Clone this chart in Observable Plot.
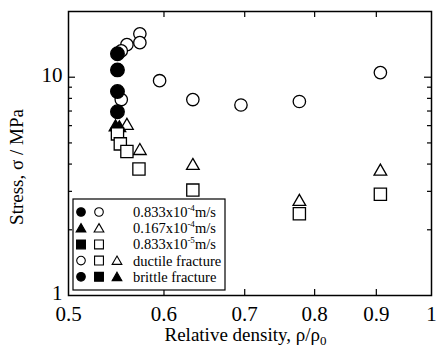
<!DOCTYPE html>
<html><head><meta charset="utf-8">
<script src="https://cdn.jsdelivr.net/npm/d3@7"></script>
<script src="https://cdn.jsdelivr.net/npm/@observablehq/plot@0.6"></script>
<style>
body{margin:0;background:#fff}
</style>
</head><body><div id="chart"></div>
<script>
// [relative density, stress MPa]
const ductile_833e4 = [[0.573,15.8],[0.573,14.4],[0.559,14.1],[0.553,13.2],[0.595,9.64],[0.553,7.9],[0.634,7.9],[0.695,7.46],[0.777,7.74],[0.907,10.5]];
const brittle_833e4 = [[0.549,12.8],[0.549,10.8],[0.549,8.6],[0.549,6.95]];
const brittle_167e4 = [[0.547,5.9],[0.551,5.85]];
const ductile_167e4 = [[0.559,6.0],[0.573,4.6],[0.634,3.93],[0.777,2.69],[0.907,3.70]];
const ductile_833e5 = [[0.549,5.5],[0.552,4.95],[0.559,4.57],[0.572,3.80],[0.634,3.04],[0.777,2.37],[0.907,2.91]];

const xTickLabels = [0.5,0.6,0.7,0.8,0.9,1];
const xInnerTicks = [0.6,0.7,0.8,0.9];
const yTickLabels = [1,10];
const yMajorTicks = [10];
const yMinorTicks = [2,3,4,5,6,7,8,9];

const FONT = '"Liberation Serif","Times New Roman",serif';
const W=439,H=349,mL=68,mR=8,mT=11,mB=54;
const fw=W-mL-mR, fh=H-mT-mB;
const sw=1.3;

const plot = Plot.plot({
  width:W,height:H,marginLeft:mL,marginRight:mR,marginTop:mT,marginBottom:mB,
  style:{fontFamily:FONT,background:"white",color:"black"},
  x:{type:"log",domain:[0.5,1]},
  y:{type:"log",domain:[1,20]},
  marks:[
    Plot.axisX({ticks:xTickLabels,anchor:"bottom",tickSize:0,tickPadding:11,fontSize:21,tickFormat:d=>String(d),label:null}),
    Plot.axisY({ticks:yTickLabels,anchor:"left",tickSize:0,tickPadding:6,fontSize:21,dy:-2,tickFormat:d=>String(d),label:null}),
    Plot.tickX(xInnerTicks,{x:d=>d,insetTop:fh-6,stroke:"black",strokeWidth:1.2}),
    Plot.tickX(xInnerTicks,{x:d=>d,insetBottom:fh-6,stroke:"black",strokeWidth:1.2}),
    Plot.tickY(yMajorTicks,{y:d=>d,insetRight:fw-7,stroke:"black",strokeWidth:1.2}),
    Plot.tickY(yMajorTicks,{y:d=>d,insetLeft:fw-7,stroke:"black",strokeWidth:1.2}),
    Plot.tickY(yMinorTicks,{y:d=>d,insetRight:fw-4,stroke:"black",strokeWidth:1.2}),
    Plot.tickY(yMinorTicks,{y:d=>d,insetLeft:fw-4,stroke:"black",strokeWidth:1.2}),
    Plot.frame({stroke:"black",strokeWidth:1.5}),
    Plot.dot(ductile_833e4,{x:d=>d[0],y:d=>d[1],r:6.2,symbol:"circle",fill:"white",stroke:"black",strokeWidth:sw}),
    Plot.dot(brittle_833e4,{x:d=>d[0],y:d=>d[1],r:6.8,symbol:"circle",fill:"black",stroke:"black",strokeWidth:sw}),
    Plot.dot(ductile_167e4,{x:d=>d[0],y:d=>d[1],r:4.7,symbol:"triangle",fill:"white",stroke:"black",strokeWidth:sw}),
    Plot.dot(brittle_167e4,{x:d=>d[0],y:d=>d[1],r:4.7,symbol:"triangle",fill:"black",stroke:"black",strokeWidth:sw}),
    Plot.dot(ductile_833e5,{x:d=>d[0],y:d=>d[1],r:6.9,symbol:"square",fill:"white",stroke:"black",strokeWidth:sw})
  ]
});
document.getElementById("chart").appendChild(plot);

const svg = d3.select(plot);
// axis titles
const xt = svg.append("text").attr("x",mL+fw/2-4).attr("y",341).attr("text-anchor","middle").attr("font-size",19).attr("fill","black");
xt.append("tspan").text("Relative density, ρ/ρ");
xt.append("tspan").attr("font-size",13).attr("dy",4).text("0");
svg.append("text").attr("transform",`translate(23,${mT+fh/2+14}) rotate(-90)`).attr("text-anchor","middle").attr("font-size",19).attr("fill","black").text("Stress, σ / MPa");

// legend
const lg = svg.append("g");
lg.append("rect").attr("x",73).attr("y",199).attr("width",152).attr("height",91).attr("fill","white").attr("stroke","black").attr("stroke-width",1.2);
const legendRows = [
  {syms:[["circle",1],["circle",0]], label:["0.833x10","-4","m/s"]},
  {syms:[["triangle",1],["triangle",0]], label:["0.167x10","-4","m/s"]},
  {syms:[["square",1],["square",0]], label:["0.833x10","-5","m/s"]},
  {syms:[["circle",0],["square",0],["triangle",0]], label:["ductile fracture"]},
  {syms:[["circle",1],["square",1],["triangle",1]], label:["brittle fracture"]}
];
const symMap={circle:d3.symbolCircle,square:d3.symbolSquare,triangle:d3.symbolTriangle};
const symSize={circle:Math.PI*4.3*4.3,square:Math.PI*5*5,triangle:Math.PI*3.6*3.6};
const colX=[81,99,117];
legendRows.forEach((r,i)=>{
  const cy=212+i*16.2;
  r.syms.forEach(([s,f],j)=>{
    lg.append("path").attr("d",d3.symbol(symMap[s],symSize[s])()).attr("transform",`translate(${colX[j]},${cy+(s==="triangle"?1:0)})`)
      .attr("fill",f?"black":"white").attr("stroke","black").attr("stroke-width",1.1);
  });
  const t=lg.append("text").attr("x",133).attr("y",cy+5).attr("text-anchor","start").attr("font-size",14.5).attr("fill","black");
  t.append("tspan").text(r.label[0]);
  if(r.label.length>1){
    t.append("tspan").attr("font-size",9).attr("dy",-6).text(r.label[1]);
    t.append("tspan").attr("dy",6).text(r.label[2]);
  }
});
svg.selectAll("text").style("font-family",FONT);
</script>
</body></html>
